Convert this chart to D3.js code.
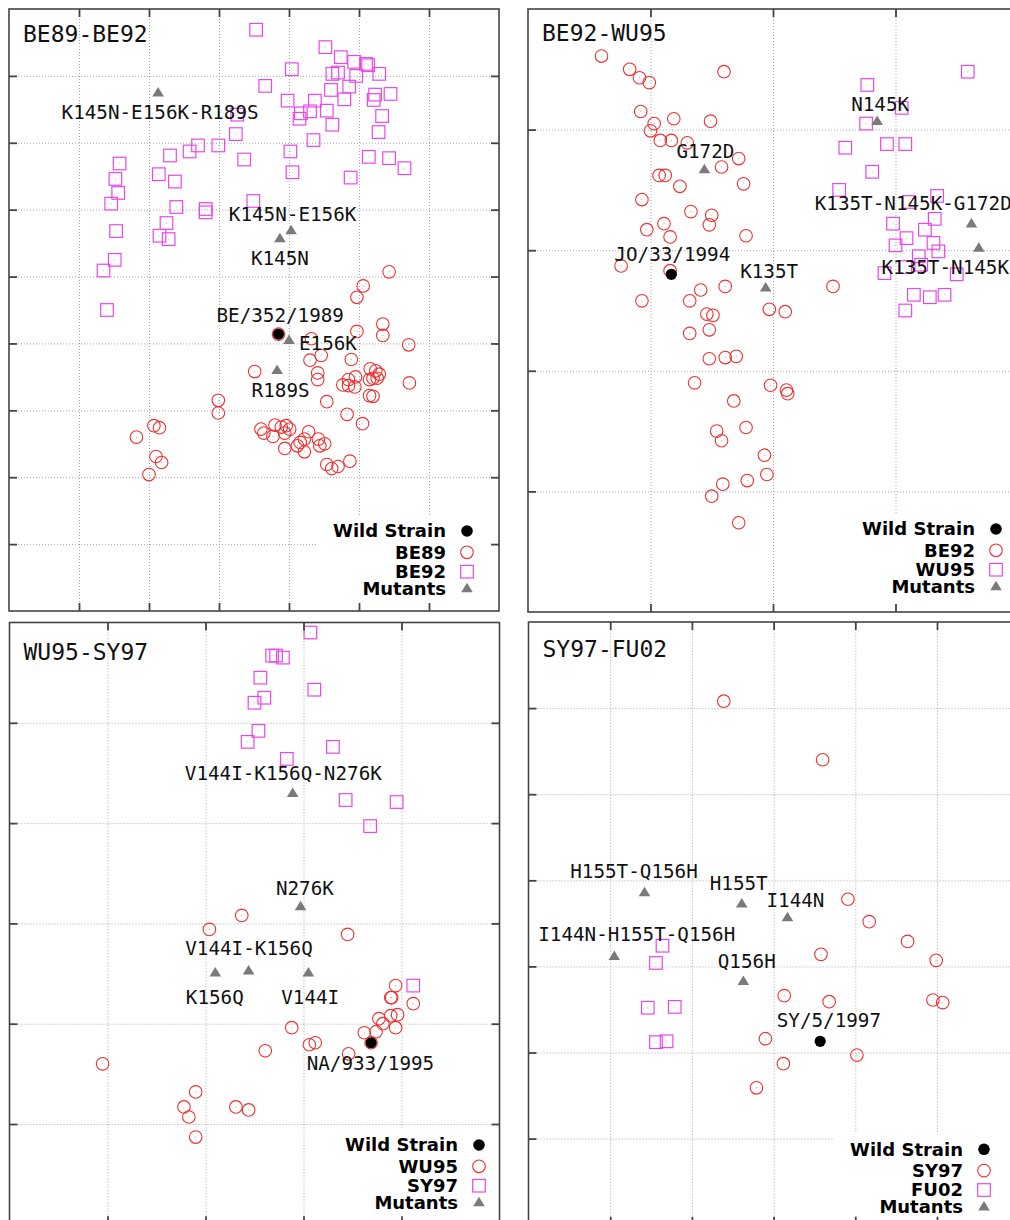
<!DOCTYPE html>
<html>
<head>
<meta charset="utf-8">
<script src="https://cdn.jsdelivr.net/npm/d3@7"></script>
<style>
  html, body { margin: 0; padding: 0; background: #fff; }
  svg { display: block; }
</style>
</head>
<body>
<svg id="chart" width="1010" height="1220"></svg>
<script>
// ---------------------------------------------------------------
// Antigenic maps of four consecutive cluster transitions.
// Coordinates are in antigenic units (one grid cell = one unit).
// ---------------------------------------------------------------

const panelTitles = ["BE89-BE92", "BE92-WU95", "WU95-SY97", "SY97-FU02"];
const circleNames = ["BE89", "BE92", "WU95", "SY97"];
const squareNames = ["BE92", "WU95", "SY97", "FU02"];
const wildNames   = ["BE/352/1989", "JO/33/1994", "NA/933/1995", "SY/5/1997"];
const wildX       = [3.85, 1.17, 3.69, 3.57];
const wildY       = [4.14, 2.80, 1.81, 2.13];

// ---- BE89-BE92 ----
const circlesBE89 = [
  [5.43,5.07],[5.06,4.86],[4.97,4.69],[5.34,4.29],[5.34,4.12],[5.71,3.98],[4.97,4.18],
  [4.89,3.76],[4.46,3.82],[4.30,3.75],[4.32,4.07],[3.51,3.58],[4.41,3.56],[4.41,3.46],
  [4.54,3.13],[4.83,2.94],[5.05,2.80],[4.77,3.38],[4.85,3.46],[4.95,3.50],[4.85,3.37],
  [4.94,3.35],[5.16,3.62],[5.24,3.59],[5.29,3.54],[5.20,3.48],[5.15,3.46],[5.26,3.48],
  [5.15,3.22],[5.20,3.21],[5.72,3.41],[2.99,3.15],[2.99,2.96],[2.07,2.77],[2.15,2.74],
  [1.82,2.60],[2.10,2.31],[2.18,2.22],[2.00,2.04],[3.60,2.72],[3.64,2.66],[3.80,2.78],
  [3.77,2.61],[3.89,2.75],[3.96,2.77],[4.01,2.72],[3.94,2.66],[3.94,2.43],[4.12,2.47],
  [4.16,2.52],[4.22,2.57],[4.28,2.68],[4.22,2.38],[4.42,2.57],[4.51,2.50],[4.44,2.47],
  [4.54,2.19],[4.61,2.13],[4.70,2.16],[4.87,2.24],[3.85,4.14]
];
const squaresBE92 = [
  [3.53,8.69],[4.52,8.43],[4.74,8.28],[4.93,8.21],[5.10,8.18],[5.13,8.16],[5.29,8.03],
  [4.62,8.03],[4.70,8.05],[4.96,8.00],[4.04,8.10],[3.66,7.85],[4.86,7.84],[4.60,7.79],
  [5.23,7.72],[5.21,7.64],[5.45,7.73],[4.79,7.65],[3.98,7.63],[4.37,7.63],[4.17,7.44],
  [4.15,7.36],[4.30,7.47],[4.54,7.48],[4.62,7.27],[5.33,7.40],[5.28,7.16],[4.35,7.04],
  [3.24,7.13],[3.26,7.42],[2.70,6.96],[2.99,6.96],[2.58,6.87],[2.30,6.81],[3.36,6.75],
  [4.02,6.87],[4.05,6.56],[5.14,6.79],[5.43,6.77],[5.65,6.62],[4.88,6.48],[1.58,6.69],
  [1.52,6.46],[1.56,6.25],[1.46,6.09],[1.53,5.68],[1.51,5.25],[1.35,5.09],[2.14,6.53],
  [2.37,6.42],[2.39,6.04],[2.81,6.01],[2.81,5.96],[3.49,6.13],[2.25,5.80],[2.15,5.61],
  [2.28,5.56],[1.40,4.50]
];
const mutantsBE89BE92 = [
  ["K145N-E156K-R189S", 2.13, 7.75],
  ["K145N-E156K", 4.03, 5.69],
  ["K145N", 3.87, 5.57],
  ["E156K", 4.00, 4.05],
  ["R189S", 3.83, 3.60]
];

// ---- BE92-WU95 ----
const circlesBE92 = [
  [0.60,4.61],[0.83,4.50],[0.91,4.43],[0.99,4.39],[1.60,4.48],[0.92,4.15],[1.03,4.05],
  [1.19,4.09],[1.49,4.07],[1.00,3.99],[1.08,3.91],[1.17,3.91],[1.30,3.89],[1.72,3.76],
  [1.58,3.69],[1.07,3.62],[1.12,3.62],[1.24,3.53],[1.76,3.55],[0.93,3.42],[1.33,3.32],
  [1.50,3.29],[1.48,3.21],[1.11,3.22],[0.97,3.17],[1.16,3.11],[1.78,3.12],[0.76,2.87],
  [1.16,2.83],[0.93,2.58],[1.32,2.58],[1.41,2.67],[1.61,2.70],[1.46,2.47],[1.51,2.46],
  [1.97,2.51],[2.10,2.49],[2.49,2.70],[1.32,2.31],[1.48,2.34],[1.48,2.10],[1.61,2.11],
  [1.70,2.12],[1.36,1.90],[1.98,1.88],[2.11,1.84],[2.12,1.81],[1.68,1.75],[1.54,1.50],
  [1.58,1.42],[1.78,1.53],[1.93,1.30],[1.95,1.14],[1.79,1.09],[1.59,1.06],[1.50,0.96],
  [1.72,0.74]
];
const squaresWU95 = [
  [3.59,4.48],[2.77,4.37],[3.05,4.18],[2.76,4.05],[2.59,3.85],[2.93,3.88],[3.08,3.88],
  [2.81,3.65],[2.54,3.50],[3.34,3.45],[3.11,3.40],[3.32,3.26],[2.98,3.22],[3.24,3.17],
  [3.09,3.10],[3.00,3.04],[3.31,3.06],[3.35,2.99],[3.19,2.95],[2.91,2.81],[3.08,2.86],
  [3.21,2.88],[3.50,2.80],[3.15,2.63],[3.28,2.61],[3.40,2.63],[3.08,2.50]
];
const mutantsBE92WU95 = [
  ["N145K", 2.85, 4.07],
  ["G172D", 1.44, 3.67],
  ["K135T", 1.94, 2.69],
  ["K135T-N145K-G172D", 3.62, 3.22],
  ["K135T-N145K", 3.68, 3.02]
];

// ---- WU95-SY97 ----
const circlesWU95 = [
  [2.37,3.08],[2.04,2.94],[3.45,2.89],[3.94,2.38],[3.89,2.26],[3.90,2.26],[4.12,2.20],
  [3.77,2.05],[3.89,2.08],[3.96,2.09],[3.81,2.00],[3.94,1.96],[3.74,1.92],[3.62,1.91],
  [3.46,1.70],[2.88,1.96],[3.06,1.79],[3.12,1.81],[2.61,1.73],[0.95,1.60],[1.90,1.32],
  [1.78,1.17],[1.83,1.07],[2.31,1.17],[2.44,1.14],[1.90,0.87],[3.69,1.81]
];
const squaresSY97 = [
  [3.07,5.90],[2.68,5.67],[2.72,5.67],[2.79,5.65],[2.56,5.45],[3.11,5.33],[2.60,5.25],
  [2.50,5.20],[2.54,4.92],[2.43,4.81],[2.83,4.64],[3.30,4.76],[3.43,4.23],[3.95,4.21],
  [3.68,3.97],[4.12,2.38]
];
const mutantsWU95SY97 = [
  ["V144I-K156Q-N276K", 2.89, 4.30],
  ["N276K", 2.97, 3.17],
  ["V144I-K156Q", 2.44, 2.53],
  ["K156Q", 2.10, 2.51],
  ["V144I", 3.05, 2.51]
];

// ---- SY97-FU02 ----
const circlesSY97 = [
  [2.39,6.08],[3.60,5.40],[3.91,3.78],[4.17,3.52],[4.64,3.29],[3.58,3.14],[4.99,3.07],
  [3.13,2.66],[3.68,2.59],[4.95,2.61],[5.07,2.58],[2.90,2.16],[4.02,1.97],[3.12,1.87],
  [2.79,1.59]
];
const squaresFU02 = [
  [1.64,3.24],[1.56,3.04],[1.46,2.52],[1.79,2.53],[1.56,2.12],[1.69,2.13]
];
const mutantsSY97FU02 = [
  ["H155T-Q156H", 1.42, 3.86],
  ["H155T", 2.61, 3.73],
  ["I144N", 3.17, 3.57],
  ["I144N-H155T-Q156H", 1.05, 3.12],
  ["Q156H", 2.63, 2.83]
];

const legendTitle  = "Wild Strain";
const mutantsTitle = "Mutants";

// ---------------------------------------------------------------
// Layout
// ---------------------------------------------------------------
const frames = [            // left, top, right, bottom (px)
  [9, 9, 499, 611],
  [528, 9, 1018, 612],
  [9.5, 622.5, 499.5, 1224.3],
  [528.5, 622, 1018.7, 1224.7]
];
const xSpan = [7, 4, 5, 6];
const ySpan = [9, 5, 6, 7];
const titleDrop = [32.7, 32, 37.7, 34.7];
const legendAnchor = [[467, 531], [996, 529], [479, 1145], [984, 1149.3]];
const legendRowGap = [0, 21.3, 40.7, 57.3];

// label placement relative to its mark: [dx, dy(baseline), anchor]
const labelPlace = {
  "K145N-E156K-R189S": [2, 26, "middle"],
  "K145N-E156K": [1.5, -9, "middle"],
  "K145N": [0, 27, "middle"],
  "E156K": [10, 9.5, "start"],
  "R189S": [3.5, 27, "middle"],
  "BE/352/1989": [1.7, -11.6, "middle"],
  "N145K": [3, -10, "middle"],
  "G172D": [1, -11, "middle"],
  "K135T": [3.5, -9.6, "middle"],
  "K135T-N145K-G172D": [-156.7, -14, "start"],
  "K135T-N145K": [-97.3, 26.5, "start"],
  "JO/33/1994": [1, -13, "middle"],
  "V144I-K156Q-N276K": [-9.4, -12.6, "middle"],
  "N276K": [4.3, -11.7, "middle"],
  "V144I-K156Q": [0.4, -15.7, "middle"],
  "K156Q": [-0.5, 31, "middle"],
  "V144I": [1.8, 31, "middle"],
  "NA/933/1995": [-0.7, 27.7, "middle"],
  "H155T-Q156H": [-10.5, -14.4, "middle"],
  "H155T": [-3, -14, "middle"],
  "I144N": [8, -10.6, "middle"],
  "I144N-H155T-Q156H": [22.5, -15, "middle"],
  "Q156H": [3.4, -12.7, "middle"],
  "SY/5/1997": [8.7, -14.3, "middle"]
};

const circleSets = [circlesBE89, circlesBE92, circlesWU95, circlesSY97];
const squareSets = [squaresBE92, squaresWU95, squaresSY97, squaresFU02];
const mutantSets = [mutantsBE89BE92, mutantsBE92WU95, mutantsWU95SY97, mutantsSY97FU02];

const RED = "#ee3030", MAG = "#e848e8", GREY = "#7a7a7a", FRAME = "#444";
const MONO = "'DejaVu Sans Mono', 'Liberation Mono', monospace";
const BOLD = "'DejaVu Sans', Verdana, sans-serif";
const CR = 6.3, SQ = 12.6;
const triPath = "M0,-5.6L5.8,3.9L-5.8,3.9Z";

const svg = d3.select("#chart");
svg.append("rect").attr("width", 1010).attr("height", 1220).attr("fill", "#fff");

frames.forEach((f, i) => {
  const [L, T, R, B] = f;
  const g = svg.append("g");
  const x = d3.scaleLinear().domain([0, xSpan[i]]).range([L, R]);
  const y = d3.scaleLinear().domain([0, ySpan[i]]).range([B, T]);
  const xt = d3.range(1, xSpan[i]);
  const yt = d3.range(1, ySpan[i]);

  // dotted grid
  const grid = g.append("g");
  grid.append("g").attr("transform", `translate(0,${B})`)
    .call(d3.axisBottom(x).tickValues(xt).tickSize(-(B - T)).tickFormat(""));
  grid.append("g").attr("transform", `translate(${L},0)`)
    .call(d3.axisLeft(y).tickValues(yt).tickSize(-(R - L)).tickFormat(""));
  grid.selectAll(".domain").remove();
  grid.selectAll("line").attr("stroke", "#a8a8a8").attr("stroke-width", 1)
    .attr("stroke-dasharray", "1,2");

  // title
  g.append("text").attr("x", L + 14).attr("y", T + titleDrop[i])
    .attr("font-family", MONO).attr("font-size", 23).attr("fill", "#111")
    .text(panelTitles[i]);

  // circles (earlier cluster)
  const cg = g.append("g");
  cg.selectAll("circle.pt").data(circleSets[i]).join("circle")
    .attr("cx", d => x(d[0])).attr("cy", d => y(d[1])).attr("r", CR)
    .attr("fill", "none").attr("stroke", RED).attr("stroke-width", 1.1);
  cg.selectAll("circle.c").data(circleSets[i]).join("circle")
    .attr("cx", d => x(d[0])).attr("cy", d => y(d[1])).attr("r", 0.55)
    .attr("fill", RED).attr("opacity", 0.6);

  // squares (later cluster)
  const sg = g.append("g");
  sg.selectAll("rect").data(squareSets[i]).join("rect")
    .attr("x", d => x(d[0]) - SQ / 2).attr("y", d => y(d[1]) - SQ / 2)
    .attr("width", SQ).attr("height", SQ)
    .attr("fill", "none").attr("stroke", MAG).attr("stroke-width", 1.2);
  sg.selectAll("circle").data(squareSets[i]).join("circle")
    .attr("cx", d => x(d[0])).attr("cy", d => y(d[1])).attr("r", 0.55)
    .attr("fill", MAG).attr("opacity", 0.6);

  // mutants
  const mg = g.append("g");
  mg.selectAll("path").data(mutantSets[i]).join("path")
    .attr("d", triPath)
    .attr("transform", d => `translate(${x(d[1])},${y(d[2])})`)
    .attr("fill", GREY);

  // wild strain
  g.append("circle").attr("cx", x(wildX[i])).attr("cy", y(wildY[i])).attr("r", 5.6)
    .attr("fill", "#000");

  // text labels
  const lab = g.append("g").attr("font-family", MONO).attr("font-size", 19.25)
    .attr("fill", "#111");
  const labelled = mutantSets[i].map(d => [d[0], d[1], d[2]])
    .concat([[wildNames[i], wildX[i], wildY[i]]]);
  lab.selectAll("text").data(labelled).join("text")
    .attr("x", d => x(d[1]) + labelPlace[d[0]][0])
    .attr("y", d => y(d[2]) + labelPlace[d[0]][1])
    .attr("text-anchor", d => labelPlace[d[0]][2])
    .text(d => d[0]);

  // legend with an opaque white box
  const [mx, my] = legendAnchor[i];
  const lg = g.append("g");
  const box = lg.append("rect").attr("fill", "#fff");
  const rows = [legendTitle, circleNames[i], squareNames[i], mutantsTitle];
  const texts = lg.selectAll("text").data(rows).join("text")
    .attr("x", mx - 21).attr("y", (d, k) => my + legendRowGap[k] + 6.3)
    .attr("text-anchor", "end")
    .attr("font-family", BOLD).attr("font-weight", "bold").attr("font-size", 18)
    .attr("fill", "#000").text(d => d);
  let minStart = mx;
  texts.each(function () { minStart = Math.min(minStart, mx - 21 - this.getComputedTextLength()); });
  box.attr("x", minStart - 16).attr("y", my - 16)
    .attr("width", R - 1 - (minStart - 16)).attr("height", B - 1 - (my - 16));

  lg.append("circle").attr("cx", mx).attr("cy", my).attr("r", 5.8).attr("fill", "#000");
  lg.append("circle").attr("cx", mx).attr("cy", my + legendRowGap[1]).attr("r", CR)
    .attr("fill", "none").attr("stroke", RED).attr("stroke-width", 1.1);
  lg.append("rect").attr("x", mx - SQ / 2).attr("y", my + legendRowGap[2] - SQ / 2)
    .attr("width", SQ).attr("height", SQ)
    .attr("fill", "none").attr("stroke", MAG).attr("stroke-width", 1.2);
  lg.append("path").attr("d", triPath)
    .attr("transform", `translate(${mx},${my + legendRowGap[3]})`).attr("fill", GREY);

  // inward ticks on all four sides
  const tk = g.append("g");
  tk.append("g").attr("transform", `translate(0,${B})`)
    .call(d3.axisBottom(x).tickValues(xt).tickSize(-8).tickFormat(""));
  tk.append("g").attr("transform", `translate(0,${T})`)
    .call(d3.axisTop(x).tickValues(xt).tickSize(-8).tickFormat(""));
  tk.append("g").attr("transform", `translate(${L},0)`)
    .call(d3.axisLeft(y).tickValues(yt).tickSize(-8).tickFormat(""));
  tk.append("g").attr("transform", `translate(${R},0)`)
    .call(d3.axisRight(y).tickValues(yt).tickSize(-8).tickFormat(""));
  tk.selectAll(".domain").remove();
  tk.selectAll("line").attr("stroke", FRAME).attr("stroke-width", 1.8);

  // frame
  g.append("rect").attr("x", L).attr("y", T).attr("width", R - L).attr("height", B - T)
    .attr("fill", "none").attr("stroke", FRAME).attr("stroke-width", 1.6);
});
</script>
</body>
</html>
